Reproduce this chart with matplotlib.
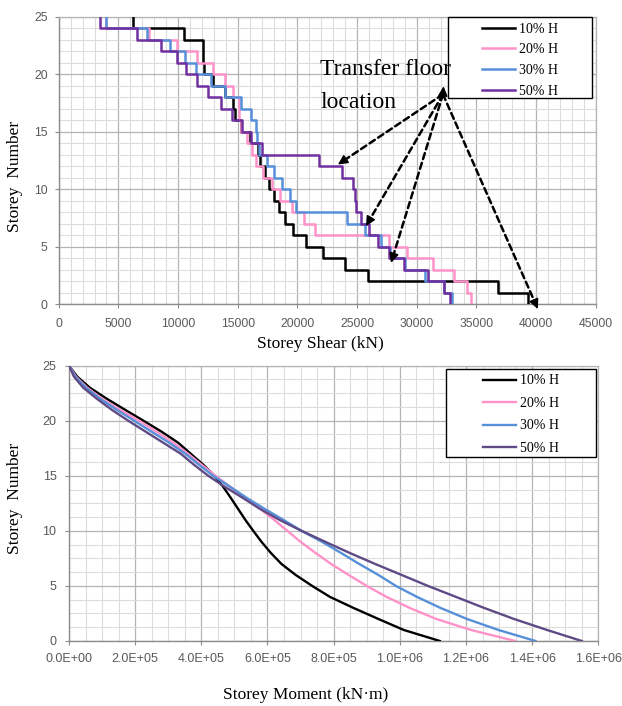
import numpy as np
import matplotlib
matplotlib.use('Agg')
import matplotlib.pyplot as plt
from matplotlib.ticker import MultipleLocator, FuncFormatter
from matplotlib.patches import Rectangle

# ---- data ----
labels = ['10% H', '20% H', '30% H', '50% H']

# storey shear (kN) for storeys 25 (top) .. 1
shear_storeys = np.arange(25, 0, -1)
shear_10 = [6250, 10500, 12050, 12050, 12150, 12950, 13900, 14600, 14750, 15300,
            16000, 16700, 16900, 17300, 17600, 18000, 18450, 18950, 19650, 20700,
            22150, 24000, 25950, 36850, 39300]
shear_20 = [3950, 7550, 9900, 11600, 12950, 13900, 14600, 15100, 15150, 15300,
            15800, 16200, 16550, 17150, 17850, 18540, 19550, 20550, 21480, 27700,
            29160, 31400, 33100, 34180, 34550]
shear_30 = [4000, 7400, 9300, 10600, 11500, 12800, 13950, 15250, 16150, 16550,
            16650, 16750, 17430, 18050, 18750, 19380, 19900, 24130, 25700, 27000,
            27750, 29000, 30700, 32300, 32930]
shear_50 = [3500, 6600, 8600, 9900, 10650, 11550, 12550, 13600, 14500, 15400,
            16100, 17000, 21850, 23750, 24700, 24850, 24900, 25350, 26030, 26750,
            27650, 28900, 30970, 32290, 32800]

# storey moment (kN.m) at levels 25 .. 0
moment_levels = np.arange(25, -1, -1)
moment_10 = [0, 25e3, 63e3, 114e3, 169e3, 225e3, 280e3, 330e3, 368e3, 406e3,
             440e3, 466e3, 489e3, 511e3, 533e3, 557e3, 582e3, 610e3, 642e3, 685e3,
             735e3, 789e3, 860e3, 935e3, 1012e3, 1121e3]
moment_20 = [0, 21e3, 55e3, 99e3, 154e3, 212e3, 265e3, 315e3, 360e3, 401e3,
             443e3, 487e3, 533e3, 578e3, 620e3, 660e3, 700e3, 745e3, 792e3, 845e3,
             900e3, 960e3, 1030e3, 1110e3, 1215e3, 1348e3]
moment_30 = [0, 19e3, 51e3, 94e3, 144e3, 197e3, 250e3, 303e3, 352e3, 393e3,
             436e3, 487e3, 537e3, 591e3, 648e3, 703e3, 765e3, 822e3, 877e3, 935e3,
             988e3, 1052e3, 1123e3, 1203e3, 1298e3, 1410e3]
moment_50 = [0, 15e3, 43e3, 84e3, 129e3, 179e3, 232e3, 285e3, 338e3, 378e3,
             421e3, 471e3, 525e3, 577e3, 636e3, 703e3, 775e3, 848e3, 925e3, 1005e3,
             1085e3, 1170e3, 1255e3, 1345e3, 1445e3, 1550e3]

# transfer floor arrows: (tail), heads
arrow_tail = (32200, 18.25)
arrow_heads = [(23400, 12.15), (25750, 6.8), (27850, 3.6), (40150, -0.4)]

colors_top = ['#000000', '#ff92c8', '#5590d9', '#7030a0']
colors_bot = ['#000000', '#ff92c8', '#5590d9', '#5f4a86']

SERIF = 'Liberation Serif'
SANS = 'Liberation Sans'
GRID_MAJ = '#b4b4b4'
GRID_MIN = '#dcdcdc'
AXIS_COL = '#8c8c8c'
TICK_TXT = '#595959'


def style_axes(ax, xmaj, xmin, ymaj, ymin, labelsize):
    ax.xaxis.set_major_locator(MultipleLocator(xmaj))
    ax.xaxis.set_minor_locator(MultipleLocator(xmin))
    ax.yaxis.set_major_locator(MultipleLocator(ymaj))
    ax.yaxis.set_minor_locator(MultipleLocator(ymin))
    ax.grid(which='major', color=GRID_MAJ, lw=0.9)
    ax.grid(which='minor', color=GRID_MIN, lw=0.8)
    ax.set_axisbelow(True)
    for side in ['top', 'right']:
        ax.spines[side].set_color(GRID_MAJ)
        ax.spines[side].set_linewidth(0.9)
    for side in ['left', 'bottom']:
        ax.spines[side].set_color(AXIS_COL)
        ax.spines[side].set_linewidth(1.0)
    ax.tick_params(which='minor', length=0)
    ax.tick_params(which='major', direction='out', length=3, width=0.8,
                   color=AXIS_COL, labelcolor=TICK_TXT, labelsize=labelsize)
    for lab in ax.get_xticklabels() + ax.get_yticklabels():
        lab.set_family(SANS)


def draw_legend(ax, handles, center, box, spacing):
    x0, y0, x1, y1 = box
    ax.add_patch(Rectangle((x0, y0), x1 - x0, y1 - y0, transform=ax.transAxes,
                           facecolor='white', edgecolor='black', lw=1.0,
                           zorder=4.5, clip_on=False))
    leg = ax.legend(handles, labels, loc='center', bbox_to_anchor=center,
                    frameon=False, handlelength=2.4, handletextpad=0.25,
                    labelspacing=spacing, prop={'family': SERIF, 'size': 10})
    leg.set_zorder(5)


fig = plt.figure(figsize=(6.22, 7.06), dpi=100)

# ---------------- top: storey shear ----------------
ax1 = fig.add_axes([0.0944, 0.569, 0.8633, 0.4074])
top_handles = []
for vals, col in zip([shear_10, shear_20, shear_30, shear_50], colors_top):
    xs = np.repeat(vals, 2)
    ys = np.column_stack([shear_storeys, shear_storeys - 1]).ravel()
    h, = ax1.plot(xs, ys, color=col, lw=1.8, zorder=3)
    top_handles.append(h)

ax1.set_xlim(0, 45000)
ax1.set_ylim(0, 25)
style_axes(ax1, 5000, 1000, 5, 1, 8.7)
ax1.tick_params(axis='x', pad=7)
ax1.tick_params(axis='y', pad=5)
ax1.set_xlabel('Storey Shear (kN)', family=SERIF, size=12.5)
ax1.set_ylabel('Storey  Number', family=SERIF, size=12.5)
ax1.xaxis.set_label_coords(0.4875, -0.112)
ax1.yaxis.set_label_coords(-0.066, 0.446)

draw_legend(ax1, top_handles, (0.859, 0.849), (0.725, 0.716, 0.993, 0.998), 0.55)

ax1.text(21900, 19.93, 'Transfer floor', family=SERIF, size=17,
         va='baseline', zorder=7)
ax1.text(21900, 17.03, 'location', family=SERIF, size=17,
         va='baseline', zorder=7)

for hx, hy in arrow_heads:
    ax1.annotate('', xy=(hx, hy), xytext=arrow_tail, annotation_clip=False,
                 arrowprops=dict(arrowstyle='-', color='black', lw=1.8,
                                 linestyle=(0, (2.5, 1.6)), shrinkA=0, shrinkB=4),
                 zorder=6)
    bx = hx + 0.04 * (arrow_tail[0] - hx)
    by = hy + 0.04 * (arrow_tail[1] - hy)
    ax1.annotate('', xy=(hx, hy), xytext=(bx, by), annotation_clip=False,
                 arrowprops=dict(arrowstyle='-|>', color='black', lw=1.2,
                                 mutation_scale=14, shrinkA=0, shrinkB=0),
                 zorder=6)
ax1.annotate('', xy=(32250, 18.95), xytext=arrow_tail, annotation_clip=False,
             arrowprops=dict(arrowstyle='-|>', color='black', lw=1.2,
                             mutation_scale=14, shrinkA=0, shrinkB=0),
             zorder=6)

# ---------------- bottom: storey moment ----------------
ax2 = fig.add_axes([0.1109, 0.0921, 0.851, 0.390])
bot_handles = []
for vals, col in zip([moment_10, moment_20, moment_30, moment_50], colors_bot):
    h, = ax2.plot(vals, moment_levels, color=col, lw=1.7, zorder=3)
    bot_handles.append(h)

ax2.set_xlim(0, 1.6e6)
ax2.set_ylim(0, 25)
style_axes(ax2, 2e5, 5e4, 5, 1.25, 9)
ax2.xaxis.set_major_formatter(FuncFormatter(lambda v, p: f'{v:.1E}'))
for lab in ax2.get_xticklabels():
    lab.set_family(SANS)
ax2.tick_params(axis='x', pad=6)
ax2.tick_params(axis='y', pad=6)
ax2.set_xlabel('Storey Moment (kN\u00b7m)', family=SERIF, size=12.5)
ax2.set_ylabel('Storey  Number', family=SERIF, size=12.5)
ax2.xaxis.set_label_coords(0.448, -0.168)
ax2.yaxis.set_label_coords(-0.087, 0.519)

draw_legend(ax2, bot_handles, (0.854, 0.822), (0.712, 0.667, 0.996, 0.987), 0.68)

fig.savefig('out.png', dpi=100)
